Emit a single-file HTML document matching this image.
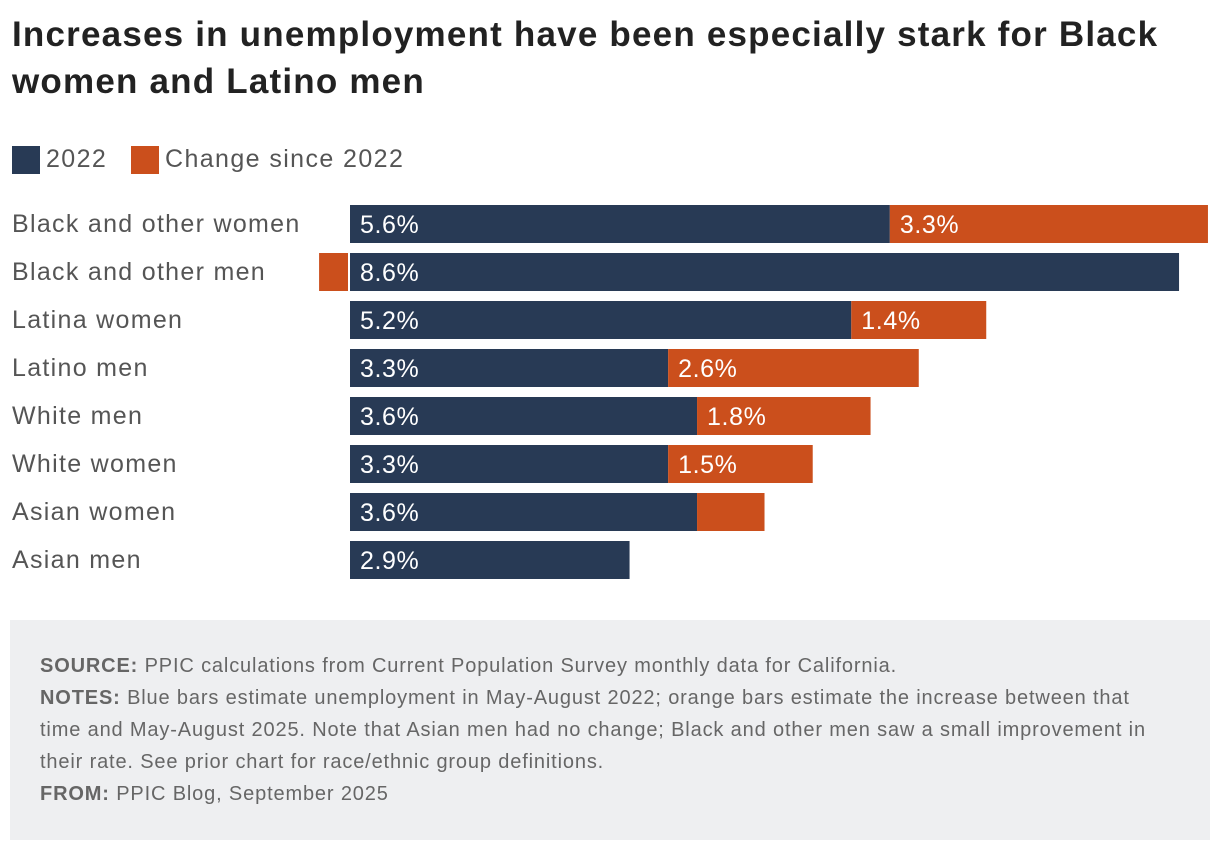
<!DOCTYPE html>
<html><head><meta charset="utf-8">
<style>
body{margin:0;width:1220px;height:850px;background:#fff;font-family:"Liberation Sans",sans-serif;overflow:hidden;position:relative}
h1{position:absolute;left:12px;top:11px;margin:0;font-size:35px;line-height:47px;font-weight:bold;color:#222;width:1210px;letter-spacing:1.2px;white-space:nowrap}
.leg{position:absolute;top:145px;font-size:25px;color:#555;display:flex;align-items:center;letter-spacing:1.4px}
.sw{width:28px;height:28px;margin-right:6px}
#foot{position:absolute;left:10px;top:620px;width:1200px;height:220px;background:#eeeff1}
#foot p{margin:0;position:absolute;left:30px;font-size:20px;color:#666;line-height:32px;white-space:nowrap;letter-spacing:0.85px}
#foot b{color:#666}
</style></head><body>
<h1>Increases in unemployment have been especially stark for Black<br>women and Latino men</h1>
<div class="leg" style="left:12px"><div class="sw" style="background:#283a55"></div>2022</div>
<div class="leg" style="left:131px"><div class="sw" style="background:#cb4f1c"></div>Change since 2022</div>
<svg id="chart" width="1220" height="600" style="position:absolute;left:0;top:0"></svg>
<div id="foot">
<p style="top:30px"><b>SOURCE:</b> PPIC calculations from Current Population Survey monthly data for California.</p>
<p style="top:62px"><b>NOTES:</b> Blue bars estimate unemployment in May-August 2022; orange bars estimate the increase between that<br>time and May-August 2025. Note that Asian men had no change; Black and other men saw a small improvement in<br>their rate. See prior chart for race/ethnic group definitions.</p>
<p style="top:158px"><b>FROM:</b> PPIC Blog, September 2025</p>
</div>
<script>
const categories=["Black and other women","Black and other men","Latina women","Latino men","White men","White women","Asian women","Asian men"];
const base=[5.6,8.6,5.2,3.3,3.6,3.3,3.6,2.9];
const change=[3.3,-0.3,1.4,2.6,1.8,1.5,0.7,0];
const baseLabels=["5.6%","8.6%","5.2%","3.3%","3.6%","3.3%","3.6%","2.9%"];
const changeLabels=["3.3%","","1.4%","2.6%","1.8%","1.5%","",""];
const svg=document.getElementById('chart');const NS="http://www.w3.org/2000/svg";
const x=v=>350+v*96.4;const y=i=>205+i*48;const bh=38;
function mk(t,a){const e=document.createElementNS(NS,t);for(const k in a)e.setAttribute(k,a[k]);svg.appendChild(e);return e;}
categories.forEach((c,i)=>{
 let t=mk('text',{x:12,y:y(i)+bh/2+8,'font-size':25,fill:'#555','letter-spacing':1.3});t.textContent=c;
 
 
 let r=mk('rect',{x:x(0),y:y(i),width:x(base[i])-x(0),height:bh,fill:'#283a55'});
 
 
 let v=mk('text',{x:x(0)+10,y:y(i)+bh/2+9,'font-size':25,fill:'#fff','letter-spacing':0.6});v.textContent=baseLabels[i];
 
 
 if(change[i]!==0){
  let x0,w;
  if(change[i]>0){x0=x(base[i]);w=x(base[i]+change[i])-x0;}else{x0=x(change[i])-2;w=x(0)-x(change[i]);}
  let r2=mk('rect',{x:x0,y:y(i),width:w,height:bh,fill:'#cb4f1c'});
  
  
  if(changeLabels[i]){let v2=mk('text',{x:x0+10,y:y(i)+bh/2+9,'font-size':25,fill:'#fff','letter-spacing':0.6});v2.textContent=changeLabels[i];
  
  }
 }
});
</script>
</body></html>
